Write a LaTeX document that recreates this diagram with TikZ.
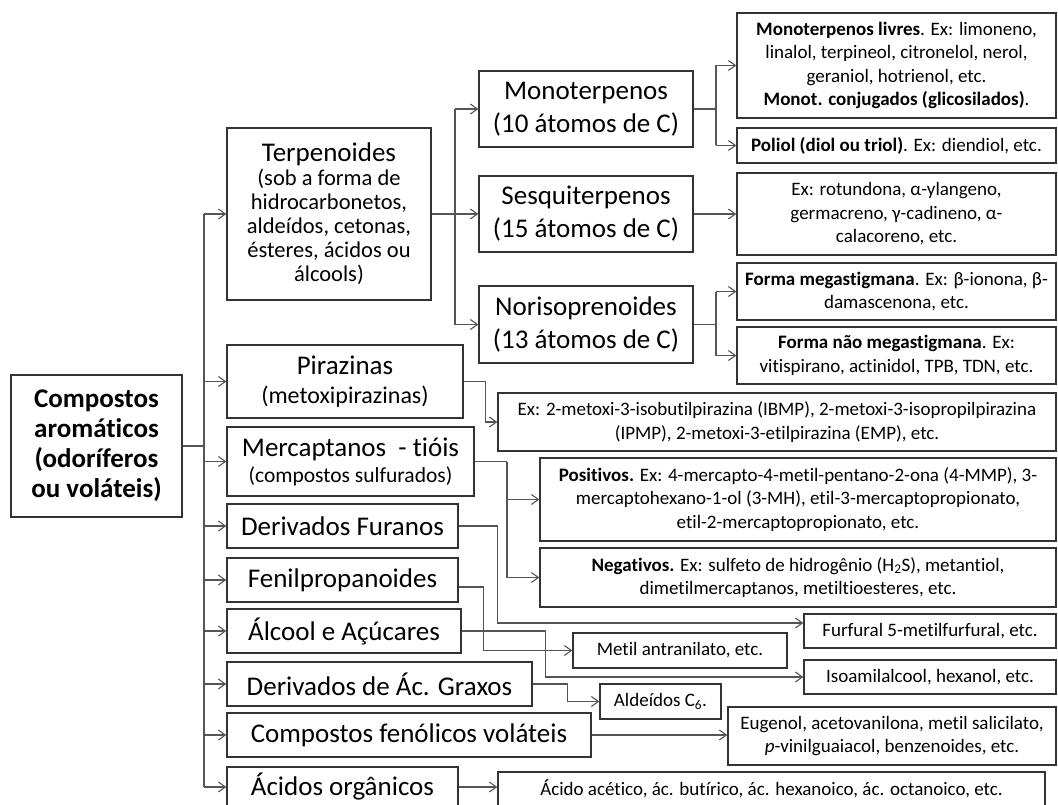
\documentclass[tikz,border=0pt]{standalone}
\usepackage{fontspec}
\setmainfont{Carlito}[RawFeature={-liga;-dlig}]
\usetikzlibrary{arrows.meta}
\definecolor{boxc}{HTML}{333333}
\definecolor{linec}{HTML}{555555}
\definecolor{txt}{HTML}{000000}
\newcommand\subf{\fontsize{22.5}{24.2}\selectfont}
\begin{document}
\begin{tikzpicture}[x=1pt,y=-1pt,
  box/.style={draw=boxc, line width=1.4pt, inner sep=2pt, align=center, text=txt},
  mixbox/.style={box, align=flush center},
  conn/.style={draw=linec, line width=1.1pt},
  arr/.style={conn, -{Straight Barb[length=7pt,width=10pt]}},
  big/.style={font=\fontsize{27}{33}\selectfont},
  small/.style={font=\fontsize{19}{23.5}\selectfont}]
\clip (0,0) rectangle (1058,805);
\fill[white] (0,0) rectangle (1058,805);

% main
\node[box, font=\bfseries\fontsize{27}{30}\selectfont, minimum width=171pt, minimum height=142pt] (main) at (96.5,446)
  {Compostos\\aromáticos\\(odoríferos\\ou voláteis)};

% left column
\node[mixbox, big, text width=198pt, minimum width=204pt, minimum height=172pt] (terp) at (329,214)
  {Terpenoides\par\vspace{-1pt}{\subf (sob a forma de\\hidrocarbonetos,\\aldeídos, cetonas,\\ésteres, ácidos ou\\álcools)\par}};
\node[mixbox, big, text width=228pt, minimum width=236pt, minimum height=73pt] (piraz) at (345,381.5)
  {Pirazinas\par{\fontsize{24}{29}\selectfont (metoxipirazinas)\par}};
\node[mixbox, big, text width=239pt, minimum width=247pt, minimum height=69pt] (merc) at (350.5,461.5)
  {Mercaptanos \ - tióis\par{\fontsize{21.5}{26}\selectfont (compostos sulfurados)\par}};
\node[box, big, minimum width=231pt, minimum height=44pt] (furanos) at (342.5,526) {Derivados Furanos};
\node[box, big, minimum width=231pt, minimum height=44pt] (fenil) at (342.5,580) {Fenilpropanoides};
\node[box, big, minimum width=234pt, minimum height=44pt] (alcool) at (344,631) {Álcool e Açúcares};
\node[box, big, minimum width=305pt, minimum height=44pt] (graxos) at (379.5,684) {Derivados de Ác. Graxos};
\node[box, big, minimum width=364pt, minimum height=44pt] (fenol) at (409,735) {Compostos fenólicos voláteis};
\node[box, big, minimum width=231pt, minimum height=40pt] (acidos) at (342.5,787) {Ácidos orgânicos};

% middle column
\node[box, big, minimum width=214pt, minimum height=76pt] (mono) at (586,109) {Monoterpenos\\(10 átomos de C)};
\node[box, big, minimum width=214pt, minimum height=76pt] (sesq) at (586,214) {Sesquiterpenos\\(15 átomos de C)};
\node[box, big, minimum width=214pt, minimum height=77pt] (nori) at (586,324.5) {Norisoprenoides\\(13 átomos de C)};

% right column
\node[box, small, minimum width=319pt, minimum height=105pt] (livres) at (896.5,65.5)
  {\textbf{Monoterpenos livres}. Ex: limoneno,\\linalol, terpineol, citronelol, nerol,\\geraniol, hotrienol, etc.\\\textbf{Monot. conjugados (glicosilados)}.};
\node[box, small, minimum width=319pt, minimum height=35pt] (poliol) at (896.5,145.5)
  {\textbf{Poliol (diol ou triol)}. Ex: diendiol, etc.};
\node[box, small, minimum width=319pt, minimum height=82pt] (sesqex) at (896.5,214)
  {Ex: rotundona, α-ylangeno,\\germacreno, γ-cadineno, α-\\calacoreno, etc.};
\node[box, small, minimum width=319pt, minimum height=57pt] (mega) at (896.5,291.5)
  {\textbf{Forma megastigmana}. Ex: β-ionona, β-\\damascenona, etc.};
\node[box, small, minimum width=319pt, minimum height=57pt] (naomega) at (896.5,355.5)
  {\textbf{Forma não megastigmana}. Ex:\\vitispirano, actinidol, TPB, TDN, etc.};
\node[box, small, minimum width=558pt, minimum height=58pt] (ibmp) at (777,422)
  {Ex: 2-metoxi-3-isobutilpirazina (IBMP), 2-metoxi-3-isopropilpirazina\\(IPMP), 2-metoxi-3-etilpirazina (EMP), etc.};
\node[box, small, minimum width=516pt, minimum height=83pt] (pos) at (798,499.5)
  {\textbf{Positivos.} Ex: 4-mercapto-4-metil-pentano-2-ona (4-MMP), 3-\\mercaptohexano-1-ol (3-MH), etil-3-mercaptopropionato,\\etil-2-mercaptopropionato, etc.};
\node[box, small, minimum width=516pt, minimum height=59pt] (neg) at (798,577.5)
  {\textbf{Negativos.} Ex: sulfeto de hidrogênio (H\textsubscript{2}S), metantiol,\\dimetilmercaptanos, metiltioesteres, etc.};
\node[box, small, minimum width=252pt, minimum height=34pt] (furfural) at (930,631) {Furfural 5-metilfurfural, etc.};
\node[box, small, minimum width=214pt, minimum height=35pt] (metil) at (680,650.5) {Metil antranilato, etc.};
\node[box, small, minimum width=252pt, minimum height=34pt] (isoamil) at (930,677) {Isoamilalcool, hexanol, etc.};
\node[box, small, minimum width=121pt, minimum height=35pt] (aldeidos) at (660.5,701.5) {Aldeídos C\textsubscript{6}.};
\node[box, small, minimum width=328pt, minimum height=58pt] (eugenol) at (892,736)
  {Eugenol, acetovanilona, metil salicilato,\\\textit{p}-vinilguaiacol, benzenoides, etc.};
\node[box, small, minimum width=547pt, minimum height=34pt] (acetico) at (771.5,789)
  {Ácido acético, ác. butírico, ác. hexanoico, ác. octanoico, etc.};

% trunk
\coordinate (tr) at (204,0);
\draw[conn] (main.east) -- (main.east -| tr);
\draw[conn] (tr |- terp.west) -- (tr |- acidos.west);
\foreach \n in {terp,piraz,merc,furanos,fenil,alcool,graxos,fenol,acidos}
  \draw[arr] (tr |- \n.west) -- (\n.west);

% terpenoides branch
\coordinate (tb) at (455,0);
\draw[conn] (terp.east) -- (terp.east -| tb);
\draw[conn] (tb |- mono.west) -- (tb |- nori.west);
\foreach \n in {mono,sesq,nori}
  \draw[arr] (tb |- \n.west) -- (\n.west);

% monoterpenos branch
\coordinate (mb) at (716,0);
\draw[conn] (mono.east) -- (mono.east -| mb);
\draw[conn] (mb |- livres.west) -- (mb |- poliol.west);
\draw[arr] (mb |- livres.west) -- (livres.west);
\draw[arr] (mb |- poliol.west) -- (poliol.west);

% sesquiterpenos
\draw[arr] (sesq.east) -- (sesqex.west);

% norisoprenoides branch
\draw[conn] (nori.east) -- (nori.east -| mb);
\draw[conn] (mb |- mega.west) -- (mb |- naomega.west);
\draw[arr] (mb |- mega.west) -- (mega.west);
\draw[arr] (mb |- naomega.west) -- (naomega.west);

% pirazinas
\draw[arr] (piraz.east) -- ++(22,0) |- (ibmp.west);

% mercaptanos branch
\coordinate (mcb) at (507,0);
\draw[conn] (merc.east) -- (merc.east -| mcb);
\draw[conn] (mcb |- merc.east) -- (mcb |- neg.west);
\draw[arr] (mcb |- pos.west) -- (pos.west);
\draw[arr] (mcb |- neg.west) -- (neg.west);

% lower connectors
\draw[arr] (furanos.east) -- ++(39,0) |- ([yshift=8pt]furfural.west);
\draw[arr] ([yshift=-7pt]fenil.east) -- ++(25,0) |- (metil.west);
\draw[arr] (alcool.east) -- ++(84,0) |- (isoamil.west);
\draw[arr] (graxos.east) -- ++(35,0) |- (aldeidos.west);
\draw[arr] (fenol.east) -- (fenol.east -| eugenol.west);
\draw[arr] (acidos.east) -- (acidos.east -| acetico.west);
\end{tikzpicture}
\end{document}
